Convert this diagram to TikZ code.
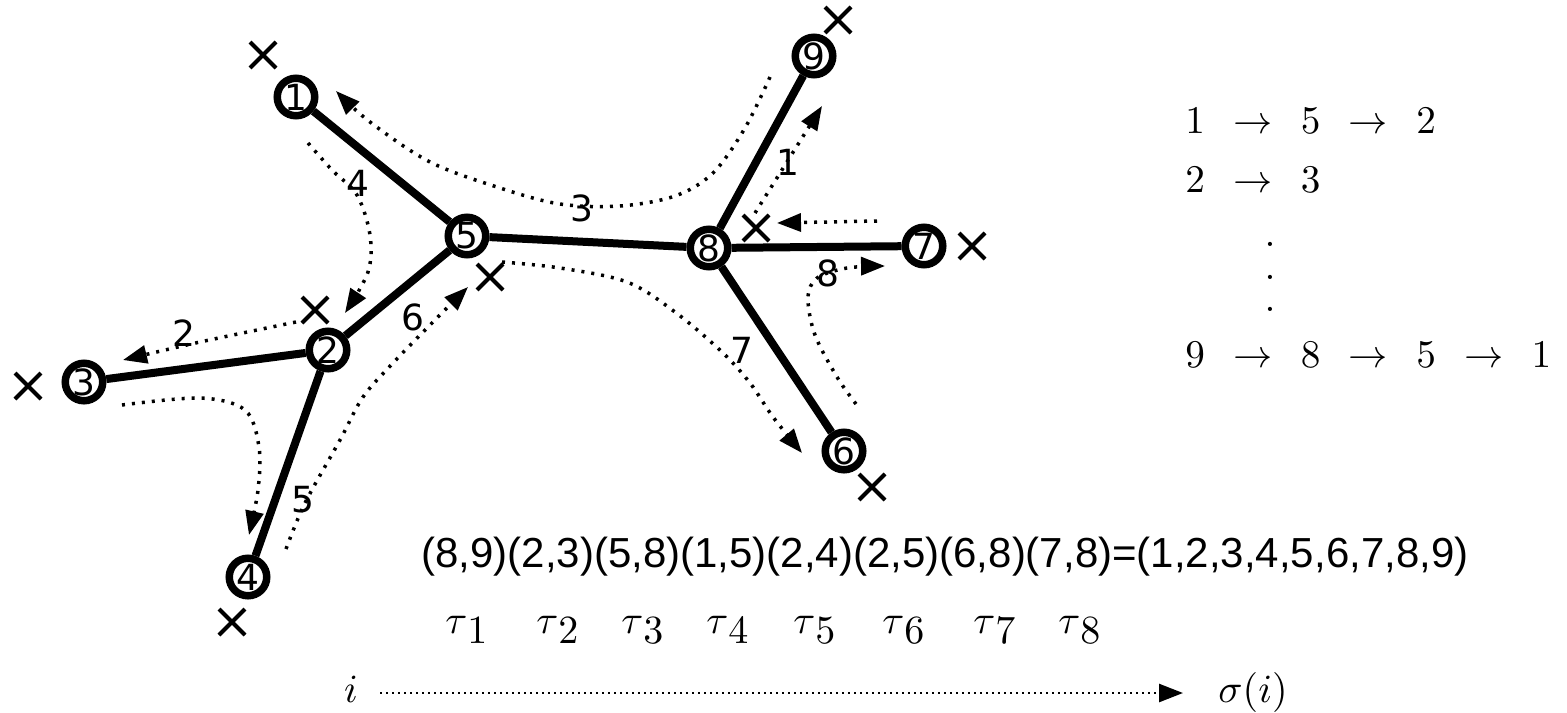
\documentclass[tikz,border=0pt]{standalone}
\usepackage{fontspec}
\newfontfamily\lblfont{DejaVu Sans}
\newfontfamily\eqfont{Liberation Sans}
\usetikzlibrary{arrows.meta,shapes.misc}
\newcommand\rar{\mathrel{\mkern8mu\rightarrow\mkern8mu}}
\newcommand\tauk[1]{\scalebox{2}{$\tau$\raisebox{-2.5pt}{$#1$}}}
\newcommand\bigmath[1]{\scalebox{1.96}{#1}}
\tikzset{
  vtx/.style={circle, draw, line width=3.75pt, minimum size=18.75pt, inner sep=0pt, fill=white,
    font=\lblfont\fontsize{18}{18}\selectfont},
  edgeline/.style={line width=4pt},
  xmark/.style={cross out, draw, line width=2pt, minimum size=11pt, inner sep=0pt},
  dotp/.style={line width=1.75pt, dash pattern=on 1.5pt off 3.5pt, -{Triangle[length=12pt,width=9pt]}},
  dotb/.style={line width=1.3pt, dash pattern=on 1.2pt off 1.8pt, -{Triangle[length=12pt,width=9pt]}},
  lbl/.style={inner sep=0pt, font=\lblfont\fontsize{18}{18}\selectfont},
  mathtxt/.style={inner sep=0pt, anchor=base west},
  tautxt/.style={inner sep=0pt, anchor=base west},
}
\begin{document}
\begin{tikzpicture}[x=0.5pt,y=-0.5pt]
\path[use as bounding box] (0,0) rectangle (1567,712);
% tree nodes
\node[vtx] (n1) at (296,97) {1};
\node[vtx] (n2) at (328,350) {2};
\node[vtx] (n3) at (84,382) {3};
\node[vtx] (n4) at (248,577) {4};
\node[vtx] (n5) at (467,236) {5};
\node[vtx] (n6) at (844,451) {6};
\node[vtx] (n7) at (924,246) {7};
\node[vtx] (n8) at (709,248) {8};
\node[vtx] (n9) at (814,56) {9};
% edges
\draw[edgeline] (n1) -- (n5);
\draw[edgeline] (n5) -- (n2);
\draw[edgeline] (n2) -- (n3);
\draw[edgeline] (n2) -- (n4);
\draw[edgeline] (n5) -- (n8);
\draw[edgeline] (n8) -- (n9);
\draw[edgeline] (n8) -- (n7);
\draw[edgeline] (n8) -- (n6);
% crosses
\node[xmark] (x1) at (263,55) {};
\node[xmark] (x2) at (315,310) {};
\node[xmark] (x3) at (28,386) {};
\node[xmark] (x4) at (232,622) {};
\node[xmark] (x5) at (490,277) {};
\node[xmark] (x6) at (872,487) {};
\node[xmark] (x7) at (972,246) {};
\node[xmark] (x8) at (756,228) {};
\node[xmark] (x9) at (838,20) {};
% dotted trajectories
\draw[dotp] plot[smooth, tension=0.55] coordinates {(770,77) (745,128) (713,173) (675,196) (620,206) (560,204) (500,188) (430,162) (370,122) (336,91)};
\draw[dotp] plot[smooth, tension=0.55] coordinates {(308,143) (332,170) (357,195) (370,235) (368,272) (345,313)};
\draw[dotp] plot[smooth, tension=0.5] coordinates {(296,322) (200,342) (123,360)};
\draw[dotp] plot[smooth, tension=0.55] coordinates {(122,405) (200,398) (245,410) (259,447) (258,490) (249,535)};
\draw[dotp] plot[smooth, tension=0.55] coordinates {(286,549) (305,503) (340,440) (363,397) (393,363) (430,325) (468,287)};
\draw[dotp] plot[smooth, tension=0.55] coordinates {(502,262) (560,268) (627,282) (675,312) (722,352) (750,383) (773,417) (802,453)};
\draw[dotp] plot[smooth, tension=0.55] coordinates {(856,404) (837,377) (815,335) (808,298) (817,278) (847,268) (885,266)};
\coordinate (l0) at (877,221);
\coordinate (l1) at (777,223);
\draw[dotp] (l0) -- (l1);
\coordinate (u0) at (755,213);
\coordinate (u1) at (822,106);
\draw[dotp] (u0) -- (u1);
% step labels
\node[lbl] (s1) at (788,162) {1};
\node[lbl] (s2) at (184,333) {2};
\node[lbl] (s3) at (582,208) {3};
\node[lbl] (s4) at (358,183) {4};
\node[lbl] (s5) at (303,500) {5};
\node[lbl] (s6) at (413,317) {6};
\node[lbl] (s7) at (742,350) {7};
\node[lbl] (s8) at (828,273) {8};
% right list
\node[mathtxt] (r1) at (1185,133) {\bigmath{$1\rar 5\rar 2$}};
\node[mathtxt] (r2) at (1185,192) {\bigmath{$2\rar 3$}};
\node[inner sep=0pt] (dd) at (1270,277)
  {\bigmath{\vbox{\baselineskip=8.2pt\lineskiplimit=-20pt\hbox{$.$}\hbox{$.$}\hbox{$.$}}}};
\node[mathtxt] (r3) at (1185,367) {\bigmath{$9\rar 8\rar 5\rar 1$}};
% equation
\node[inner sep=0pt, anchor=base, font=\eqfont\fontsize{21}{25}\selectfont] (eq) at (945,567)
  {(8,9)(2,3)(5,8)(1,5)(2,4)(2,5)(6,8)(7,8)=(1,2,3,4,5,6,7,8,9)};
% taus
\node[tautxt] (t1) at (445,633) {\tauk{1}};
\node[tautxt] (t2) at (536,633) {\tauk{2}};
\node[tautxt] (t3) at (621,633) {\tauk{3}};
\node[tautxt] (t4) at (706,633) {\tauk{4}};
\node[tautxt] (t5) at (793,633) {\tauk{5}};
\node[tautxt] (t6) at (882,633) {\tauk{6}};
\node[tautxt] (t7) at (973,633) {\tauk{7}};
\node[tautxt] (t8) at (1058,633) {\tauk{8}};
% bottom arrow
\node[tautxt, anchor=base] (ii) at (351,702) {\scalebox{2}{$i$}};
\node[tautxt] (sig) at (1218,702) {\scalebox{2}{$\sigma(i)$}};
\coordinate (b0) at (380,693);
\coordinate (b1) at (1183,693);
\draw[dotb] (b0) -- (b1);
\end{tikzpicture}
\end{document}
